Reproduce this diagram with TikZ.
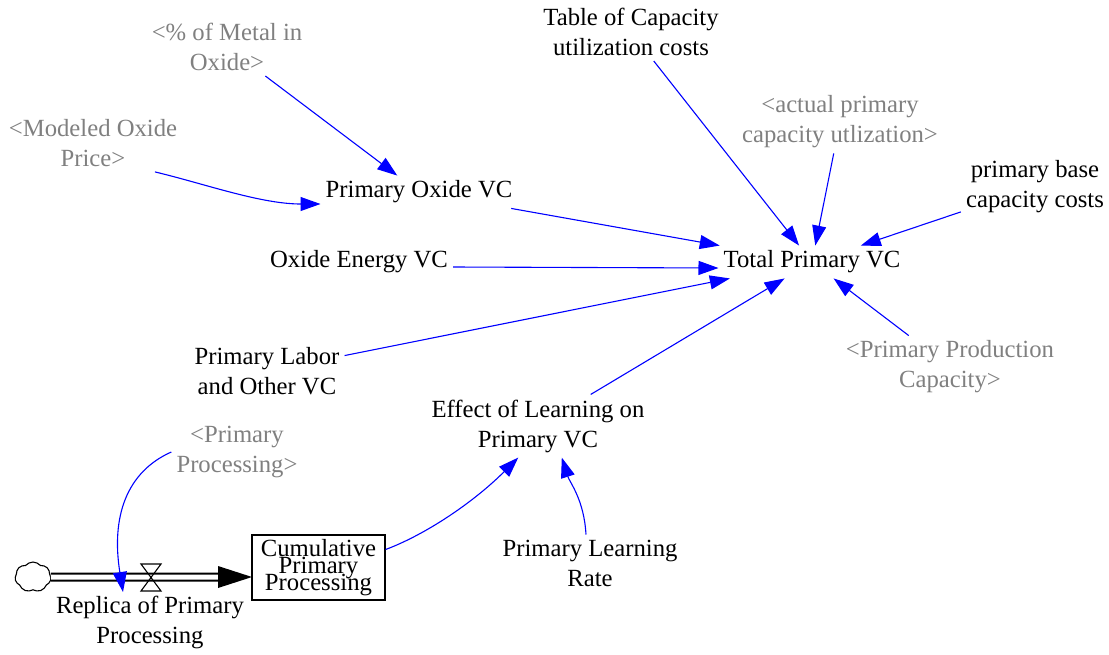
\documentclass[tikz,border=0pt]{standalone}
\usepackage{fontspec}
\setmainfont{Liberation Serif}
\usetikzlibrary{arrows.meta,shapes.symbols}
\definecolor{gtext}{RGB}{128,128,128}
\definecolor{cblue}{RGB}{0,0,255}
\newcommand\mystockfont{\fontsize{24.7pt}{17pt}\selectfont\setlength{\lineskiplimit}{-100pt}\setlength{\lineskip}{0pt}}
\tikzset{
  var/.style={align=center, inner sep=5pt, font=\fontsize{24.7pt}{30pt}\selectfont},
  shadow/.style={var, text=gtext},
  conn/.style={draw=cblue, line width=1.1pt, -{Triangle[length=20pt,width=14pt]}, fill=none},
  stockbox/.style={draw, line width=1.2pt, minimum width=133pt, minimum height=65pt, inner sep=0pt, align=center,
    font=\mystockfont},
}
\begin{document}
\begin{tikzpicture}[x=1pt,y=-1pt]
\useasboundingbox (0,0) rectangle (1109,654);
% nodes
\node[shadow] (metal) at (227,47) {<\% of Metal in\\Oxide>};
\node[shadow] (mop) at (93,143) {<Modeled Oxide\\Price>};
\node[var] (tab) at (631,32) {Table of Capacity\\utilization costs};
\node[shadow] (act) at (840,122) {<actual primary\\capacity utlization>};
\node[var] (pbc) at (1035,187) {primary base\\capacity costs};
\node[var] (pox) at (419,192) {Primary Oxide VC};
\node[var] (oe) at (359,262) {Oxide Energy VC};
\node[var] (tot) at (812,262) {Total Primary VC};
\node[var] (lab) at (267,371) {Primary Labor\\and Other VC};
\node[shadow] (ppc) at (950,367) {<Primary Production\\Capacity>};
\node[var] (eff) at (538,426) {Effect of Learning on\\Primary VC};
\node[shadow] (pp) at (237,452) {<Primary\\Processing>};
\node[var] (plr) at (590,563) {Primary Learning\\Rate};
\node[stockbox] (stock) at (318.5,567.5) {Cumulative\\Primary\\Processing};
\node[cloud, draw, line width=1.1pt, cloud puffs=7, cloud puff arc=100, aspect=1.2,
      minimum width=36pt, minimum height=30pt, inner sep=0pt, outer sep=0pt] (cloud) at (33,577) {};
\coordinate (valve) at (151,577);
\coordinate (pipeend) at (219,577);
\coordinate (rin) at (123,592);
\node[var] (repl) at (150,622) {Replica of Primary\\Processing};
% flow pipe
\draw[line width=2pt, double=white, double distance=5pt] (cloud.east) -- (pipeend);
\fill (218,566) -- (252,577) -- (218,588) -- cycle;
\draw[line width=1.1pt] (valve) ++(-10,-13) -- ++(20,0) -- ++(-20,27) -- ++(20,0) -- cycle;
% connectors
\draw[conn] (metal) -- (pox);
\draw[conn] (mop.-25) .. controls +(50,12) and +(-60,0) .. ([yshift=-12pt]pox.west);
\draw[conn] (pox) -- (tot);
\draw[conn] ([yshift=-5pt]oe.east) -- ([yshift=-6pt]tot.west);
\draw[conn] (lab) -- (tot);
\draw[conn] (tab) -- (tot);
\draw[conn] (act) -- (tot);
\draw[conn] (pbc) -- (tot);
\draw[conn] (ppc) -- (tot);
\draw[conn] (eff) -- (tot);
\draw[conn] (stock.15) .. controls +(40,-15) and +(-45,45) .. (eff.238);
\draw[conn] ([xshift=-4pt]plr.north) .. controls +(-2,-35) and +(8,25) .. (eff.307);
\draw[conn] (pp.west) .. controls +(-45,20) and +(-12,-75) .. (rin);
\end{tikzpicture}
\end{document}
